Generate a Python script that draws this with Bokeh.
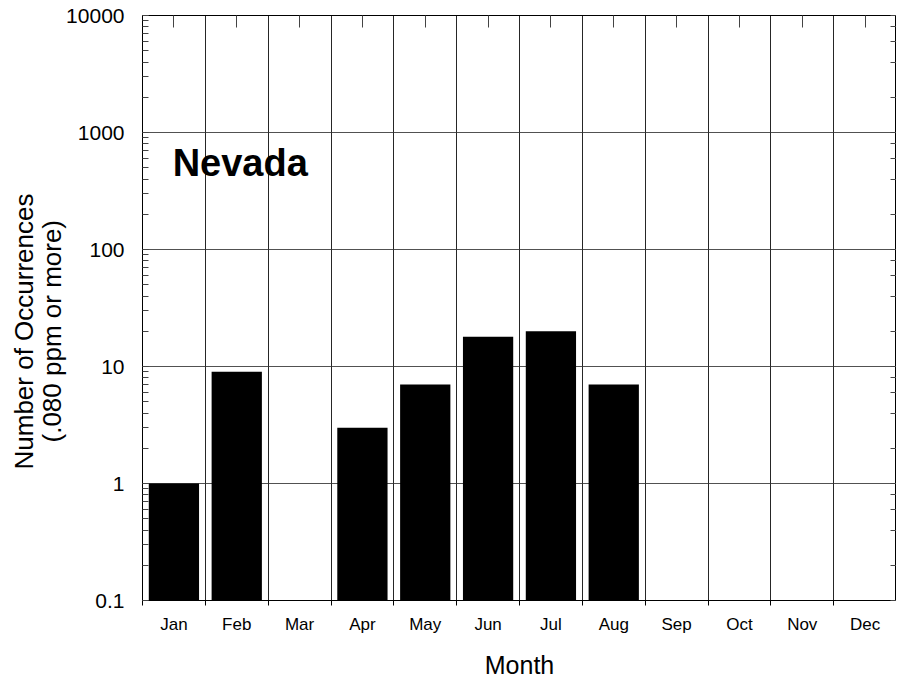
from bokeh.plotting import figure
from bokeh.models import (LinearAxis, LogAxis, FixedTicker, Label, Title, ColumnDataSource)
from bokeh.embed import file_html
from bokeh.resources import INLINE

months = ["Jan", "Feb", "Mar", "Apr", "May", "Jun", "Jul", "Aug", "Sep", "Oct", "Nov", "Dec"]
counts = [1, 9, 0, 3, 7, 18, 20, 7, 0, 0, 0, 0]
y_ticks = [0.1, 1, 10, 100, 1000, 10000]
y_tick_labels = ["0.1", "1", "10", "100", "1000", "10000"]
state_name = "Nevada"
x_title = "Month"
y_title_lines = ["Number of Occurrences", "(.080 ppm or more)"]

FONT = "Liberation Sans"
n = len(months)
centers = [i + 0.5 for i in range(n)]
bounds = [float(i) for i in range(n + 1)]

bar_x = [c for c, v in zip(centers, counts) if v > 0]
bar_top = [v for v in counts if v > 0]
src = ColumnDataSource(dict(x=bar_x, top=bar_top))

p = figure(frame_width=754, frame_height=585, x_range=(0, n), y_range=(y_ticks[0], y_ticks[-1]),
           y_axis_type="log", output_backend="svg", toolbar_location=None,
           min_border_left=142, min_border_right=0, min_border_top=15, min_border_bottom=0)
p.outline_line_color = "black"
p.background_fill_color = "white"
p.border_fill_color = "white"

p.vbar(x="x", top="top", bottom=y_ticks[0], width=0.8, source=src,
       fill_color="black", line_color=None)

# bottom axis
xa = p.xaxis[0]
xa.ticker = FixedTicker(ticks=centers, minor_ticks=bounds)
xa.major_label_overrides = {c: m for c, m in zip(centers, months)}
xa.major_tick_out = 0
xa.major_tick_in = 0
xa.minor_tick_out = 5
xa.minor_tick_in = 0
xa.major_label_standoff = 9
xa.major_label_text_font = FONT
xa.major_label_text_font_size = "17px"
xa.major_label_text_color = "black"
xa.axis_label = x_title
xa.axis_label_text_font = FONT
xa.axis_label_text_font_style = "normal"
xa.axis_label_text_font_size = "25px"
xa.axis_label_text_color = "black"
xa.axis_label_standoff = 14
xa.axis_line_color = "black"
xa.minor_tick_line_color = "black"

# left axis
ya = p.yaxis[0]
ya.major_label_overrides = dict(zip(y_ticks, y_tick_labels))
ya.major_tick_out = 0
ya.major_tick_in = 0
ya.minor_tick_out = 0
ya.minor_tick_in = 6
ya.minor_tick_line_color = "#444444"
ya.major_label_standoff = 18
ya.major_label_text_font = FONT
ya.major_label_text_font_size = "21px"
ya.major_label_text_color = "black"
ya.axis_line_color = "black"

# y title: two lines on the left side, both centred a little below the frame centre
# (offset = distance in px from the frame bottom to the start of each line)
for line, so, off in zip(reversed(y_title_lines), [-6, -2], [158, 131]):
    p.add_layout(Title(text=line, align="left", offset=off, standoff=so,
                       text_font=FONT, text_font_size="26px", text_font_style="normal",
                       text_color="black"), "left")

# top axis
top = LinearAxis(ticker=FixedTicker(ticks=centers), major_tick_in=12, major_tick_out=0,
                 minor_tick_in=0, minor_tick_out=0, major_label_standoff=0,
                 axis_line_color="black", major_tick_line_color="#444444")
top.major_label_overrides = {c: "" for c in centers}
p.add_layout(top, "above")

# right axis
right = LogAxis(major_tick_in=0, major_tick_out=0, minor_tick_in=6, minor_tick_out=0,
                major_label_standoff=0,
                axis_line_color="black", minor_tick_line_color="#444444")
right.major_label_overrides = {t: "" for t in y_ticks}
p.add_layout(right, "right")

# grids
p.xgrid.ticker = FixedTicker(ticks=bounds)
p.xgrid.grid_line_color = "black"
p.xgrid.grid_line_alpha = 0.85
p.ygrid.grid_line_color = "#333333"
p.ygrid.grid_line_alpha = 0.85

p.add_layout(Label(x=0.48, y=550, text=state_name, text_font=FONT, text_font_style="bold",
                   text_font_size="38px", text_color="black", text_baseline="middle"))

open("out.html", "w").write(file_html(p, INLINE))
